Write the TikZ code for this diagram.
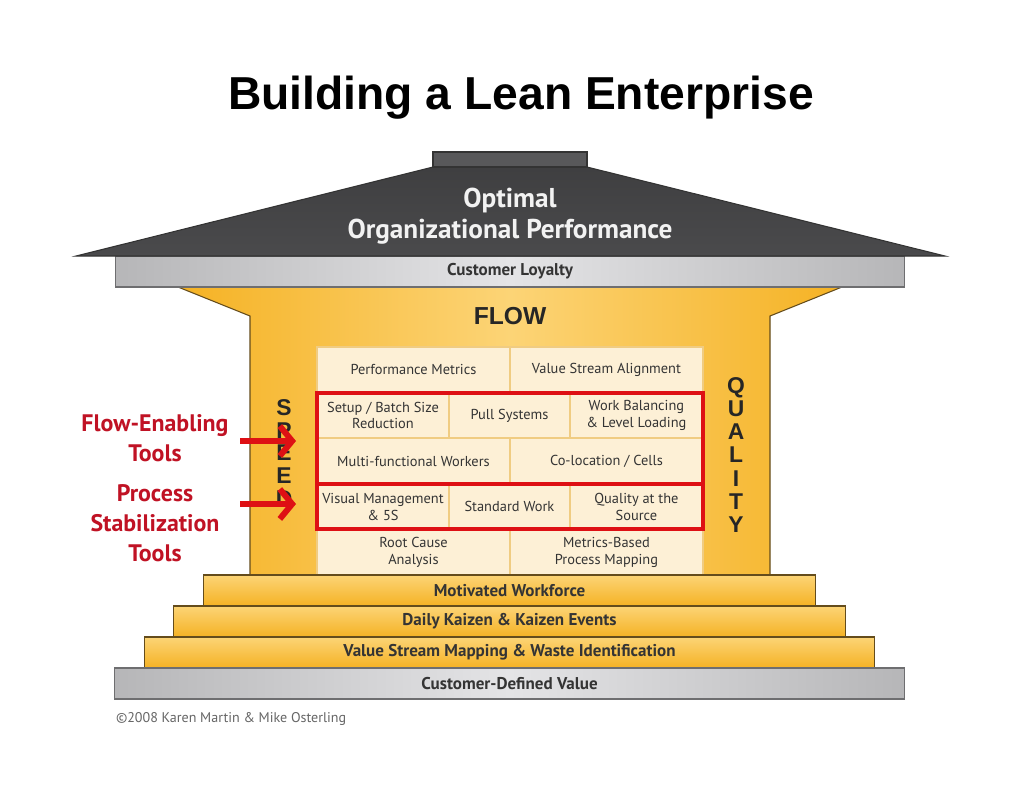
\documentclass[tikz,border=0pt]{standalone}
\usepackage{fontspec}
\setmainfont{PT Sans}
\newfontfamily\headfont{Liberation Sans}
\usetikzlibrary{arrows.meta}
\usetikzlibrary{positioning,shapes,fit}

\definecolor{roofgrey}{RGB}{74,74,76}
\definecolor{chimneygrey}{RGB}{88,88,90}
\definecolor{bandgrey}{RGB}{182,182,184}
\definecolor{bandlight}{RGB}{228,228,230}
\definecolor{bandedge}{RGB}{110,110,112}
\definecolor{pillaryellow}{RGB}{245,178,36}
\definecolor{pillarlight}{RGB}{252,212,118}
\definecolor{pillaredge}{RGB}{100,76,28}
\definecolor{cellcream}{RGB}{253,240,214}
\definecolor{cellline}{RGB}{240,204,130}
\definecolor{framered}{RGB}{222,16,20}
\definecolor{labelred}{RGB}{192,18,36}
\definecolor{textgrey}{RGB}{52,52,52}

\begin{document}
\begin{tikzpicture}[%
        x=0.02cm, y=-0.02cm,
        every node/.style={inner sep=0pt, outer sep=0pt},
        cell/.style={draw=cellline, line width=0.8pt, fill=cellcream, align=center,
          text=textgrey, font=\fontsize{8.2}{9.6}\selectfont, minimum height=0.912cm},
        halfcell/.style={cell, minimum width=3.86cm},
        redframe/.style={draw=framered, line width=2.3pt, inner sep=0pt},
        redarrow/.style={draw=framered, line width=3.4pt,
          -{Straight Barb[length=7pt, width=17pt]}},
        lbl/.style={align=center, text=labelred, font=\bfseries\fontsize{13.6}{17}\selectfont},
        pillarword/.style={align=center, text=black!85,
          font=\headfont\bfseries\fontsize{13}{13}\selectfont},
        stair/.style={draw=pillaredge, line width=0.6pt, top color=pillarlight,
          bottom color=pillaryellow, minimum height=0.62cm, text=textgrey,
          font=\bfseries\fontsize{9.7}{10}\selectfont},
        greyband/.style={draw=bandedge, line width=0.6pt, left color=bandgrey,
          right color=bandgrey, middle color=bandlight, minimum height=0.62cm,
          minimum width=15.8cm, text=textgrey, font=\bfseries\fontsize{9.7}{10}\selectfont}
      ]
      \useasboundingbox[fill=white] (0,0) rectangle (1024,792);

      % title
      \node [anchor=base, font=\headfont\bfseries\fontsize{26.3}{30}\selectfont] (title) at (521,109) {Building a Lean Enterprise};

      % body of the house
      \path [draw=pillaredge, line width=0.6pt, left color=pillaryellow, right color=pillaryellow, middle color=pillarlight]
        (178,287) -- (842,287) -- (770,316) -- (770,575) -- (250,575) -- (250,316) -- cycle;
      \node [font=\headfont\bfseries\fontsize{14}{14}\selectfont, text=black!85] (flow) at (510,316) {FLOW};

      % tool cells
      \node [halfcell, anchor=north west] (pm) at (317,347) {Performance Metrics};
      \node [halfcell, right=0pt of pm] (vsa) {Value Stream Alignment};
      \node [cell, minimum width=2.64cm, below right=0pt of pm.south west] (sbs) {Setup / Batch Size\\Reduction};
      \node [cell, minimum width=2.42cm, right=0pt of sbs] (ps) {Pull Systems};
      \node [cell, minimum width=2.66cm, right=0pt of ps] (wbl) {Work Balancing\\\& Level Loading};
      \node [halfcell, below right=0pt of sbs.south west] (mfw) {Multi-functional Workers};
      \node [halfcell, right=0pt of mfw] (cc) {Co-location / Cells};
      \node [cell, minimum width=2.64cm, below right=0pt of mfw.south west] (vm) {Visual Management\\\& 5S};
      \node [cell, minimum width=2.42cm, right=0pt of vm] (sw) {Standard Work};
      \node [cell, minimum width=2.66cm, right=0pt of sw] (qs) {Quality at the\\Source};
      \node [halfcell, below right=0pt of vm.south west] (rca) {Root Cause\\Analysis};
      \node [halfcell, right=0pt of rca] (mbp) {Metrics-Based\\Process Mapping};

      % red frames
      \node [redframe, fit=(sbs)(wbl)(cc)] (fet) {};
      \node [redframe, fit=(vm)(qs)] (pst) {};

      % pillars
      \node [pillarword] (speed) at (284,453) {S\\P\\E\\E\\D};
      \node [pillarword, font=\headfont\bfseries\fontsize{13}{13.2}\selectfont] (quality) at (736,455) {Q\\U\\A\\L\\I\\T\\Y};

      % labels and arrows
      \node [lbl] (fetlbl) at (155,438) {Flow-Enabling\\Tools};
      \node [lbl] (pstlbl) at (155,523) {Process\\Stabilization\\Tools};
      \coordinate (fa0) at (240,441);
      \coordinate (fa1) at (296,441);
      \coordinate (pa0) at (240,504);
      \coordinate (pa1) at (296,504);
      \draw [redarrow] (fa0) -- (fa1);
      \draw [redarrow] (pa0) -- (pa1);

      % steps
      \node [stair, minimum width=12.26cm] (mw) at (509.5,590.5) {Motivated Workforce};
      \node [stair, minimum width=13.44cm, below=0pt of mw] (dk) {Daily Kaizen \& Kaizen Events};
      \node [stair, minimum width=14.62cm, below=0pt of dk] (vsm) {Value Stream Mapping \& Waste Identification};
      \node [greyband, below=0pt of vsm] (cdv) {Customer-Defined Value};

      % roof
      \node [greyband] (cl) at (510,271.5) {Customer Loyalty};
      \path [draw=black!80, line width=0.6pt, top color=roofgrey!85!black, bottom color=roofgrey]
        (76,256) -- (433,167) -- (587,167) -- (945,256) -- cycle;
      \path [draw=black!80, line width=0.6pt, fill=chimneygrey] (433,152) rectangle (587,167);
      \node [align=center, text=white!95!black, font=\bfseries\fontsize{15.5}{17.5}\selectfont] (oop) at (510,216) {Optimal\\Organizational Performance};

      % copyright
      \node [anchor=base west, text=black!60, font=\fontsize{8}{9}\selectfont] (copy) at (116,722) {\textcopyright2008 Karen Martin \& Mike Osterling};
    \end{tikzpicture}
\end{document}
